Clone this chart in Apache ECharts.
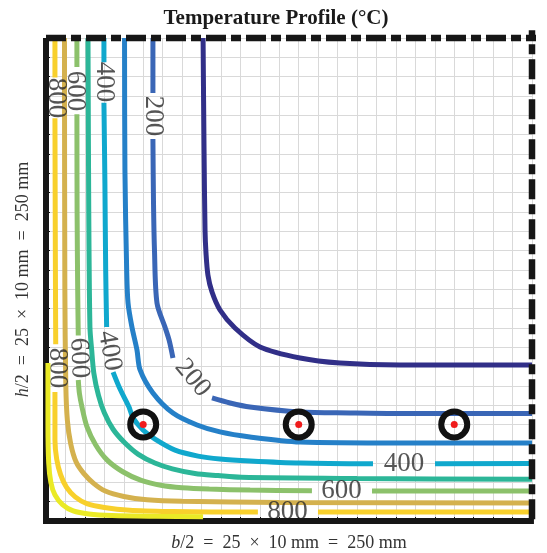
<!DOCTYPE html>
<html>
<head>
<meta charset="utf-8">
<script src="https://cdn.jsdelivr.net/npm/echarts@6/dist/echarts.min.js"></script>
<style>
  html, body { margin: 0; padding: 0; background: #ffffff; }
  #chart { width: 547px; height: 553px; }
</style>
</head>
<body>
<div id="chart"></div>
<script>
// Isotherm levels (°C) and their colours
const levels = [100, 200, 300, 400, 500, 600, 700, 800, 900];
const lineColors = ['#312f88', '#3a66b6', '#2580c8', '#10a8cd', '#2cb698', '#8cc16b', '#d4b14e', '#f8d02c', '#eaea26'];

// Isotherm paths in grid cells (x from the heated left face, y from the heated bottom face).
// Each isotherm is a list of segments; breaks leave room for the inline labels.
const iso100 = [
  [[8.08, 25], [8.13, 19.2], [8.18, 15.06], [8.23, 13.87], [8.33, 12.73], [8.54, 11.85], [8.95, 10.92],
   [9.72, 9.99], [11.01, 9.01], [13.07, 8.44], [15.12, 8.18], [18.21, 8.07], [25, 8.07]]
];
const iso200 = [
  [[5.50, 25], [5.50, 22.15]],
  [[5.50, 19.77], [5.53, 16.5], [5.58, 14.03], [5.71, 11.28], [6.12, 10.04], [6.33, 9.37], [6.53, 8.44]],
  [[8.54, 6.37], [9.47, 6.11], [10.49, 5.90], [13.07, 5.64], [15.64, 5.59], [18.21, 5.56], [25, 5.56]]
];
const iso300 = [
  [[4.04, 25], [4.06, 18.17], [4.15, 12.99], [4.22, 11.28], [4.42, 10.04], [4.68, 8.85], [4.84, 7.82],
   [5.50, 6.63], [6.53, 5.59], [7.77, 4.97], [8.95, 4.61], [10.49, 4.35], [13.07, 4.09], [18.21, 4.04], [25, 4.04]]
];
const iso400 = [
  [[2.98, 25], [2.98, 23.75]],
  [[2.98, 21.65], [3.03, 17.5], [3.07, 13.0], [3.12, 10.04]],
  [[3.45, 7.71], [3.81, 6.83], [4.27, 5.90], [4.48, 5.33], [4.99, 4.71], [5.61, 4.24], [6.64, 3.67],
   [7.82, 3.36], [8.95, 3.21], [10.49, 3.11], [13.07, 3.00], [16.82, 2.96]],
  [[20.01, 2.96], [25, 2.98]]
];
const iso500 = [
  [[2.16, 25], [2.20, 16], [2.26, 10.04], [2.35, 8.85], [2.46, 7.66], [2.70, 6.50], [3.00, 5.60], [3.45, 4.75],
   [4.05, 4.05], [4.75, 3.45], [5.60, 3.00], [6.50, 2.70], [7.66, 2.46], [8.85, 2.35], [10.04, 2.26], [16, 2.20], [25, 2.16]]
];
const iso600 = [
  [[1.59, 25], [1.59, 23.5]],
  [[1.59, 21.05], [1.60, 16], [1.63, 12], [1.66, 9.6]],
  [[1.66, 7.30], [1.72, 6.6], [1.85, 5.90], [2.10, 4.90], [2.55, 3.95], [3.15, 3.15], [3.95, 2.55], [4.90, 2.10],
   [5.90, 1.85], [7.00, 1.72], [8.40, 1.65], [10.5, 1.60], [13.68, 1.57]],
  [[16.77, 1.55], [25, 1.55]]
];
const iso700 = [
  [[0.95, 25], [0.97, 12], [1.02, 7.0], [1.10, 5.2], [1.27, 4.0], [1.55, 3.05], [1.95, 2.45], [2.45, 1.95],
   [3.05, 1.55], [4.00, 1.27], [5.20, 1.10], [7.00, 1.02], [12, 0.96], [25, 0.93]]
];
const iso800 = [
  [[0.46, 25], [0.46, 22.95]],
  [[0.46, 20.85], [0.48, 14], [0.50, 9.15]],
  [[0.46, 6.68], [0.46, 4.19], [0.55, 3.2], [0.75, 2.4], [1.05, 1.75], [1.50, 1.25], [2.10, 0.90], [3.00, 0.70],
   [4.30, 0.56], [6.50, 0.49], [8.50, 0.47], [10.9, 0.47]],
  [[13.99, 0.47], [25, 0.47]]
];
const iso900 = [
  [[0.10, 8.18], [0.10, 5.0], [0.14, 3.0], [0.25, 2.0], [0.46, 1.35], [0.85, 0.85], [1.40, 0.52], [2.2, 0.36],
   [3.4, 0.28], [5.7, 0.24], [8.08, 0.22]]
];
const isotherms = [iso100, iso200, iso300, iso400, iso500, iso600, iso700, iso800, iso900];

// Inline isotherm labels: level, anchor point (cells) and text angle (degrees)
const labelLevel = [200, 200, 400, 400, 400, 600, 600, 600, 800, 800, 800];
const labelX = [5.50, 7.54, 2.98, 3.27, 18.42, 1.52, 1.70, 15.20, 0.51, 0.59, 12.42];
const labelY = [20.96, 7.40, 22.72, 8.80, 2.96, 22.26, 8.44, 1.55, 21.89, 7.92, 0.47];
const labelAngle = [-90, -50, -90, -80, 0, -90, -88, 0, -90, -90, 0];

// Reinforcing bar positions (cells)
const rebarX = [5, 13, 21];
const rebarY = [5, 5, 5];

const serif = '"Liberation Serif", "DejaVu Serif", serif';

const series = [];
isotherms.forEach((segs, k) => {
  segs.forEach(seg => {
    series.push({
      type: 'line',
      data: seg,
      smooth: 0.3,
      symbol: 'none',
      silent: true,
      z: levels[k] === 900 ? 4 : 2,
      lineStyle: { color: lineColors[k], width: 5, cap: 'butt' }
    });
  });
});

// Section outline: heated faces solid, symmetry planes dash-dot
const solidBorder = { color: '#161616', width: 6 };
series.push({ type: 'line', data: [[0, -0.16], [0, 25]], symbol: 'none', silent: true, z: 3, clip: false, lineStyle: solidBorder });
series.push({ type: 'line', data: [[-0.155, 0], [25.1, 0]], symbol: 'none', silent: true, z: 3, clip: false, lineStyle: solidBorder });
series.push({ type: 'line', data: [[0, 25], [25.8, 25]], symbol: 'none', silent: true, z: 3, clip: false,
  lineStyle: { color: '#161616', width: 6.5, type: [20, 5, 10, 5] } });
series.push({ type: 'line', data: [[25, 25.4], [25, 0]], symbol: 'none', silent: true, z: 3, clip: false,
  lineStyle: { color: '#161616', width: 6.5, type: [20, 5, 10, 5], dashOffset: 11 } });

// Isotherm labels
series.push({
  type: 'scatter',
  symbolSize: 0,
  silent: true,
  z: 2,
  data: labelLevel.map((lv, i) => ({
    name: String(lv),
    value: [labelX[i], labelY[i]],
    label: { rotate: labelAngle[i] }
  })),
  label: {
    show: true,
    position: 'inside',
    formatter: p => p.name,
    fontFamily: serif,
    fontSize: 27,
    color: '#2b2b2b'
  }
});

// Rebars: black ring with a red centre
series.push({
  type: 'scatter',
  symbol: 'circle',
  symbolSize: 26,
  silent: true,
  z: 5,
  data: rebarX.map((x, i) => [x, rebarY[i]]),
  itemStyle: { color: 'rgba(0,0,0,0)', borderColor: '#111111', borderWidth: 6, opacity: 1 }
});
series.push({
  type: 'scatter',
  symbol: 'circle',
  symbolSize: 7,
  silent: true,
  z: 6,
  data: rebarX.map((x, i) => [x, rebarY[i]]),
  itemStyle: { color: '#f01c1c', opacity: 1 }
});

const sp = '\u2002';
const cellAxis = {
  type: 'value',
  min: 0,
  max: 25,
  interval: 1,
  axisLine: { show: false },
  axisLabel: { show: false },
  axisTick: { show: true, inside: true, length: 4, lineStyle: { color: '#111', width: 1 } },
  splitLine: { show: true, lineStyle: { color: '#d9d9d9', width: 1 } },
  nameLocation: 'middle',
  nameTextStyle: {
    fontFamily: serif, fontSize: 18, color: '#333',
    rich: { i: { fontFamily: serif, fontSize: 18, fontStyle: 'italic', color: '#333' } }
  }
};

const chart = echarts.init(document.getElementById('chart'), null, { renderer: 'canvas' });
chart.setOption({
  animation: false,
  backgroundColor: '#ffffff',
  title: {
    text: 'Temperature Profile (°C)',
    left: 276,
    top: 8,
    textAlign: 'center',
    padding: 0,
    textStyle: { fontFamily: serif, fontWeight: 'bold', fontSize: 21, color: '#1a1a1a' }
  },
  grid: { left: 46, right: 15, top: 38, bottom: 32, outerBoundsMode: 'none', containLabel: false },
  xAxis: Object.assign({}, cellAxis, {
    name: ['{i|b}/2', '=', '25', '×', '10' + ' mm', '=', '250 mm'].join(sp), nameGap: 13
  }),
  yAxis: Object.assign({}, cellAxis, {
    name: ['{i|h}/2', '=', '25', '×', '10' + ' mm', '=', '250 mm'].join(sp), nameGap: 14
  }),
  series: series
});
</script>
</body>
</html>
